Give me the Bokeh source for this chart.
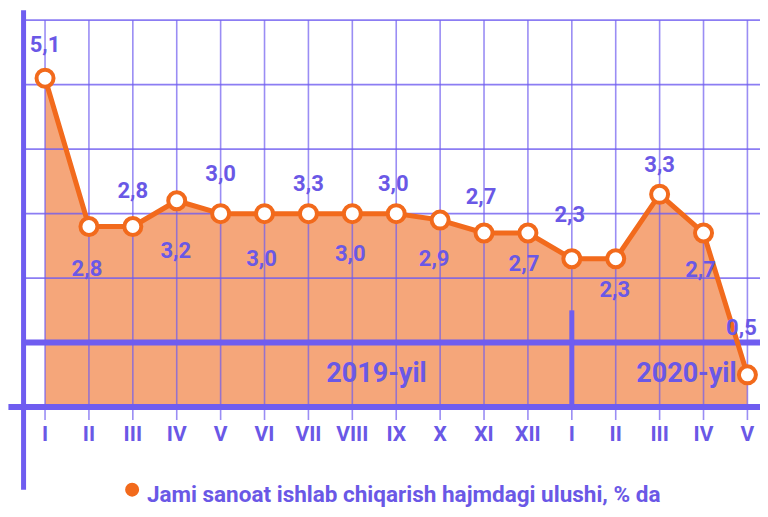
from bokeh.plotting import figure
from bokeh.models import Range1d, ColumnDataSource
from bokeh.core.properties import value
from bokeh.embed import file_html
from bokeh.resources import INLINE

# ---- data ----
months = ["I", "II", "III", "IV", "V", "VI", "VII", "VIII", "IX", "X", "XI", "XII",
          "I", "II", "III", "IV", "V"]
values = [5.1, 2.8, 2.8, 3.2, 3.0, 3.0, 3.0, 3.0, 3.0, 2.9, 2.7, 2.7,
          2.3, 2.3, 3.3, 2.7, 0.5]
value_labels = ["5,1", "2,8", "2,8", "3,2", "3,0", "3,0", "3,3", "3,0", "3,0", "2,9",
                "2,7", "2,7", "2,3", "2,3", "3,3", "2,7", "0,5"]
grid_levels = [2, 3, 4, 5, 6]
years = ["2019-yil", "2020-yil"]
legend_text = "Jami sanoat ishlab chiqarish hajmdagi ulushi, % da"

# ---- layout / style (not data) ----
label_dy = [-34, 41, -37, 49, -41, 44, -31, 39, -31, 38, -37, 30, -45, 30, -30, 36, -48]
label_dx = [0, -2, 0, -1, 0, -3, 0, -2, -3, -6, -3, -4, -2, -1, 0, -3, -6]
PURPLE = "#6F5DF0"
TEXT = "#6A58E6"
ORANGE = "#F26A1C"
AREA = "#F5A67A"
FONT = value("Roboto")

xs = list(range(len(values)))
n = len(values)

XL, XR = -1.0144, 16.298
YB, YT = -1.588, 6.305
p = figure(width=760, height=509, output_backend="svg", toolbar_location=None,
           x_range=Range1d(XL, XR), y_range=Range1d(YB, YT),
           min_border=0, outline_line_color=None, background_fill_color="white",
           border_fill_color="white")
p.axis.visible = False
p.grid.visible = False
p.min_border_left = p.min_border_right = p.min_border_top = p.min_border_bottom = 0

x_axis_left = -0.489

# area
p.varea(x=xs, y1=[0] * n, y2=values, fill_color=AREA)

# grid lines (drawn over the area)
p.segment(x0=[x_axis_left] * len(grid_levels), y0=grid_levels,
          x1=[XR] * len(grid_levels), y1=grid_levels,
          line_color=PURPLE, line_width=1.6, line_alpha=0.8)
p.segment(x0=xs, y0=[-0.2] * n, x1=xs, y1=[6] * n,
          line_color=PURPLE, line_width=1.6, line_alpha=0.7)

# thick lines
p.segment(x0=[x_axis_left], y0=[1], x1=[XR], y1=[1], line_color=PURPLE, line_width=6)
p.segment(x0=[-0.834], y0=[0], x1=[XR], y1=[0], line_color=PURPLE, line_width=6)
p.segment(x0=[x_axis_left], y0=[6.153], x1=[x_axis_left], y1=[-1.282],
          line_color=PURPLE, line_width=5)
p.segment(x0=[12], y0=[1.5], x1=[12], y1=[0], line_color=PURPLE, line_width=5)

# line + markers
p.line(xs, values, line_color=ORANGE, line_width=5)
p.scatter(xs, values, size=17, fill_color="white", line_color=ORANGE, line_width=4)

# value labels
src = ColumnDataSource(dict(x=xs, y=values, t=value_labels, dy=label_dy, dx=label_dx))
p.text(x="x", y="y", text="t", x_offset="dx", y_offset="dy", source=src,
       text_font=FONT, text_font_style="bold", text_font_size="22px",
       text_color=TEXT, text_align="center", text_baseline="middle")

# month tick labels
p.text(x=xs, y=[-0.41] * n, text=months, text_font=FONT, text_font_style="bold",
       text_font_size="21px", text_color=TEXT, text_align="center",
       text_baseline="middle")

# year labels
p.text(x=[7.55, 14.61], y=[0.53, 0.53], text=years, text_font=FONT,
       text_font_style="bold", text_font_size="27px", text_color=TEXT,
       text_align="center", text_baseline="middle")

# legend
p.scatter(x=[1.984], y=[-1.28], size=14, fill_color=ORANGE, line_color=None)
p.text(x=[2.32], y=[-1.35], text=[legend_text], text_font=FONT, text_font_style="bold",
       text_font_size="22.5px", text_color=TEXT, text_align="left",
       text_baseline="alphabetic")

open("out.html", "w").write(file_html(p, INLINE))
